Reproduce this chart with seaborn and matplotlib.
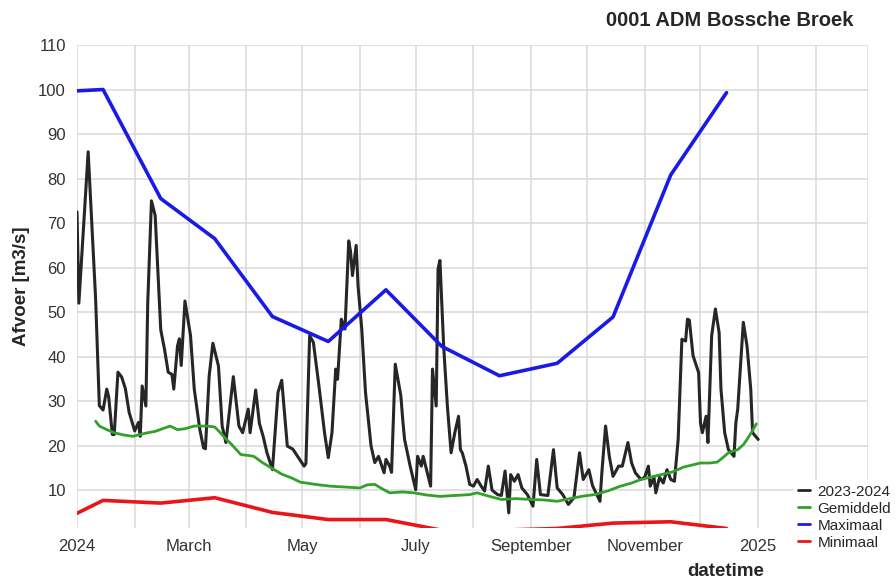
import pandas as pd
import numpy as np
import matplotlib.pyplot as plt
import seaborn as sns

# day-of-year (0 = 2024-01-01) and discharge of the 2023-2024 series
obs_day = [0, 1, 6, 10, 12, 14, 16, 17, 19, 20, 22, 24, 26, 28, 31, 33, 34, 35, 37, 38,
           40, 42, 45, 47, 49, 51, 52, 54, 55, 56, 58, 61, 63, 66, 68, 69, 71, 73, 76, 78,
           80, 84, 87, 89, 92, 93, 96, 98, 100, 102, 105, 108, 110, 113, 116, 119, 122, 123, 125, 127,
           130, 133, 135, 137, 139, 140, 142, 144, 146, 147, 148, 150, 151, 153, 155, 158, 160, 162, 165, 166,
           168, 169, 171, 174, 175, 176, 179, 182, 183, 185, 186, 190, 191, 193, 194, 195, 197, 199, 201, 203,
           205, 206, 207, 209, 211, 213, 215, 217, 219, 221, 223, 226, 228, 230, 232, 233, 235, 237, 239, 242,
           245, 247, 249, 253, 256, 258, 261, 264, 267, 270, 272, 275, 277, 281, 282, 284, 286, 288, 291, 293,
           296, 298, 300, 303, 305, 307, 308, 310, 311, 313, 315, 317, 319, 321, 323, 325, 327, 328, 329, 331,
           334, 335, 336, 338, 339, 341, 343, 345, 346, 348, 350, 353, 354, 355, 358, 360, 362, 363, 366]
obs_val = [72.5, 52, 86, 53, 29, 28, 32.7, 31, 22.5, 22.5, 36.5, 35.4, 32.8, 27.5, 23.3, 25.2, 22.1, 33.4, 28.9, 52,
           75, 71.7, 46, 41.7, 36.5, 36, 32.7, 42.4, 44, 38, 52.5, 44.7, 32.7, 23.6, 19.5, 19.3, 35.6, 43, 37.9, 24.4,
           20.7, 35.5, 24.4, 22.9, 28.2, 22.9, 32.5, 25, 22.1, 18.5, 14.6, 32, 34.7, 19.9, 19.2, 17.3, 15.4, 16, 44.7, 43.2,
           33.4, 22.9, 17.3, 22.9, 37.2, 34.9, 48.4, 46.2, 66, 63.5, 58.2, 65, 55.9, 46.2, 32, 19.9, 16.2, 17.6, 13.9, 16.9,
           15.4, 14, 38.3, 31.2, 25.9, 21.4, 15.4, 10.1, 17.6, 15.4, 17.6, 10.9, 37.2, 28.9, 59.7, 61.6, 42.4, 28.9, 18.4, 22.9,
           26.6, 19.1, 18.4, 15.4, 11.3, 10.9, 12.4, 11, 9.8, 15.4, 10, 9, 8.8, 14.3, 4.9, 13.5, 12, 13.5, 10.5, 9,
           6.4, 16.9, 9, 8.8, 19.1, 10.5, 9, 6.8, 8.3, 18.4, 12.4, 14.6, 11, 7.5, 13.9, 24.4, 17.6, 13.1, 15.4, 15.4,
           20.7, 16.1, 13.9, 12.4, 12.9, 15.4, 10.9, 12.9, 9.4, 12.9, 11.6, 14.6, 12.4, 12, 21.4, 43.9, 43.5, 48.4, 48.2, 40.2,
           36.4, 25.1, 22.9, 26.6, 20.7, 44.7, 50.7, 45.4, 32.7, 22.9, 19.1, 17.6, 25.1, 28.2, 47.7, 42.4, 32.7, 22.9, 21.4]

# long-term mean (Gemiddeld)
mean_day = [10, 12, 16, 20, 25, 30, 35, 38, 42, 46, 50, 54, 58, 63, 70, 74, 77, 80, 83, 88,
            92, 95, 100, 106, 110, 115, 120, 128, 136, 144, 152, 156, 160, 164, 168, 175, 181, 188, 195, 203,
            211, 215, 220, 228, 236, 244, 251, 258, 265, 271, 278, 285, 292, 298, 303, 308, 314, 320, 326, 330,
            335, 340, 344, 347, 350, 355, 358, 360, 363, 365]
mean_val = [25.5, 24.4, 23.6, 22.9, 22.4, 22.1, 22.6, 22.9, 23.2, 23.8, 24.4, 23.6, 23.8, 24.4, 24.4, 24.2, 22.9, 21.5, 20.3, 18,
            17.8, 17.6, 16.1, 14.6, 13.6, 12.8, 11.8, 11.3, 10.9, 10.7, 10.5, 11.2, 11.3, 10.3, 9.4, 9.6, 9.4, 8.9, 8.6, 8.8,
            9, 9.4, 8.8, 7.9, 8.1, 7.9, 7.8, 7.5, 8.1, 8.6, 9, 9.8, 10.9, 11.6, 12.4, 12.9, 13.5, 14.1, 15.2, 15.6,
            16.1, 16.1, 16.3, 17.3, 18.4, 19.1, 20.2, 21.4, 23.4, 24.9]

# monthly max / min
ext_dates = ['2024-01-01', '2024-01-15', '2024-02-15', '2024-03-15', '2024-04-15', '2024-05-15', '2024-06-15',
             '2024-07-15', '2024-08-15', '2024-09-15', '2024-10-15', '2024-11-15', '2024-12-15']
max_val = [99.7, 100, 75.5, 66.5, 49, 43.4, 55, 42.3, 35.7, 38.5, 48.9, 80.8, 99.3]
min_val = [4.8, 7.7, 7.1, 8.3, 5.0, 3.4, 3.4, 1.0, 1.0, 1.4, 2.6, 2.9, 1.4]

tick_dates = pd.date_range('2024-01-01', '2025-03-01', freq='MS')
tick_labels = ['2024', '', 'March', '', 'May', '', 'July', '', 'September', '', 'November', '', '2025', '', '']

start = pd.Timestamp('2024-01-01')
df_obs = pd.DataFrame({'datetime': start + pd.to_timedelta(obs_day, unit='D'), 'afvoer': obs_val})
df_mean = pd.DataFrame({'datetime': start + pd.to_timedelta(mean_day, unit='D'), 'afvoer': mean_val})
df_ext = pd.DataFrame({'datetime': pd.to_datetime(ext_dates), 'max': max_val, 'min': min_val})

sns.set_style('whitegrid')
plt.rcParams['font.family'] = ['Liberation Sans', 'DejaVu Sans']

fig = plt.figure(figsize=(8.96, 5.8), dpi=100)
ax = fig.add_axes([77 / 896, 1 - 528 / 580, (868 - 77) / 896, (528 - 45) / 580])

sns.lineplot(data=df_obs, x='datetime', y='afvoer', ax=ax, color='#262626', lw=2.2, label='2023-2024')
sns.lineplot(data=df_mean, x='datetime', y='afvoer', ax=ax, color='#33a02c', lw=2, label='Gemiddeld')
sns.lineplot(data=df_ext, x='datetime', y='max', ax=ax, color='#1a1ae6', lw=2.6, label='Maximaal')
sns.lineplot(data=df_ext, x='datetime', y='min', ax=ax, color='#e8161b', lw=2.6, label='Minimaal')

ax.set_xlim(pd.Timestamp('2024-01-01'), pd.Timestamp('2025-03-01'))
ax.set_ylim(1.5, 110)
ax.set_xticks(tick_dates)
ax.set_xticklabels(tick_labels)
ax.set_yticks(np.arange(10, 111, 10))
ax.grid(True, color='#d9d9d9', lw=1.1)
for s in ax.spines.values():
    s.set_visible(False)
ax.tick_params(axis='both', which='major', length=5, color='#c8c8c8', labelsize=12, labelcolor='#333333', pad=3)

ax.set_ylabel('Afvoer [m3/s]', fontsize=13.5, fontweight='bold', labelpad=6)
ax.set_xlabel('datetime', fontsize=13.5, fontweight='bold')
ax.xaxis.set_label_coords((726 - 77) / (868 - 77), -0.072)
fig.text(853 / 896, 1 - 20 / 580, '0001 ADM Bossche Broek', ha='right', va='center',
         fontsize=14.5, fontweight='bold')

ax.legend_.remove()
handles, labels = ax.get_legend_handles_labels()
leg = fig.legend(handles, labels, loc='upper left', bbox_to_anchor=(793 / 896, 1 - 480 / 580),
                 fontsize=11, handlelength=0.8, handletextpad=0.5, labelspacing=0.2, borderaxespad=0,
                 frameon=True, facecolor='white', edgecolor='none', framealpha=1, borderpad=0.3)
for line in leg.get_lines():
    line.set_linewidth(2)

fig.savefig('out.png', dpi=100)
